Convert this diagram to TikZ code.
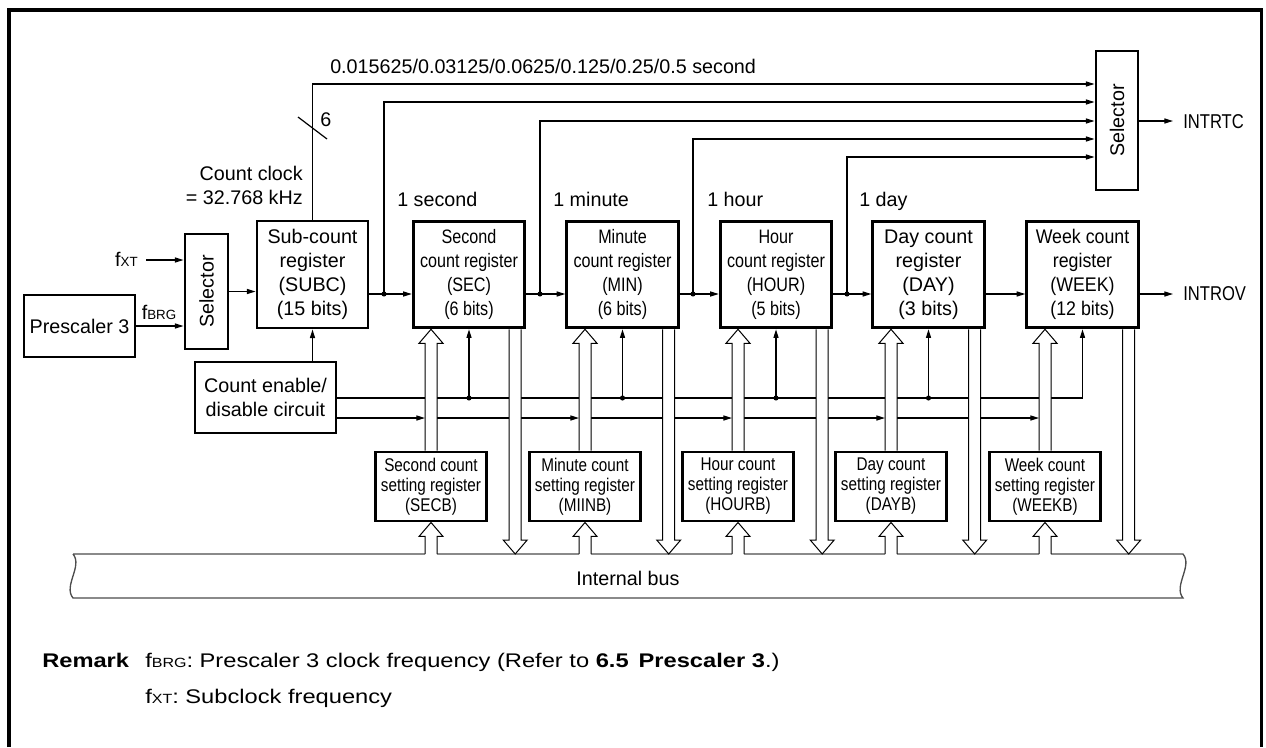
\documentclass[tikz,border=0pt]{standalone}
\usepackage{fontspec}
\usepackage{graphicx}
\setmainfont{Liberation Sans}
\newfontfamily\condf[FakeStretch=0.83]{Liberation Sans}
\newfontfamily\weekf[FakeStretch=0.9]{Liberation Sans}
\newfontfamily\widef[FakeStretch=1.2]{Liberation Sans}
\usetikzlibrary{arrows.meta,calc}
\pgfdeclarelayer{bg}
\pgfdeclarelayer{mid}
\pgfsetlayers{bg,mid,main}
\newcommand\sbs[1]{{\fontsize{10pt}{10pt}\selectfont #1}}
\newcommand\hollowup[2]{%
\begin{pgfonlayer}{mid}
\fill[white] let \p1=#1, \p2=#2 in (\x1-4.5pt,\y1-1.3pt) -- (\x1-4.5pt,\y2-10.5pt) -- (\x1-9pt,\y2-10.5pt) -- (\x1,\y2) -- (\x1+9pt,\y2-10.5pt) -- (\x1+4.5pt,\y2-10.5pt) -- (\x1+4.5pt,\y1-1.3pt) -- cycle;
\draw[hol] let \p1=#1, \p2=#2 in (\x1-4.5pt,\y1) -- (\x1-4.5pt,\y2-10.5pt) -- (\x1-9pt,\y2-10.5pt) -- (\x1,\y2) -- (\x1+9pt,\y2-10.5pt) -- (\x1+4.5pt,\y2-10.5pt) -- (\x1+4.5pt,\y1);
\end{pgfonlayer}}
\newcommand\hollowdown[2]{%
\begin{pgfonlayer}{mid}
\fill[white] let \p1=#1, \p2=#2 in (\x1-4.5pt,\y1+1.3pt) -- (\x1-4.5pt,\y2+10.5pt) -- (\x1-9pt,\y2+10.5pt) -- (\x1,\y2) -- (\x1+9pt,\y2+10.5pt) -- (\x1+4.5pt,\y2+10.5pt) -- (\x1+4.5pt,\y1+1.3pt) -- cycle;
\draw[hol] let \p1=#1, \p2=#2 in (\x1-4.5pt,\y1) -- (\x1-4.5pt,\y2+10.5pt) -- (\x1-9pt,\y2+10.5pt) -- (\x1,\y2) -- (\x1+9pt,\y2+10.5pt) -- (\x1+4.5pt,\y2+10.5pt) -- (\x1+4.5pt,\y1);
\end{pgfonlayer}}
\begin{document}
\begin{tikzpicture}[x=0.75pt,y=-0.75pt,
  font=\fontsize{14.8pt}{18pt}\selectfont,
  blk/.style={draw, line width=2.2pt, fill=white, inner sep=0pt, align=center},
  regbox/.style={blk, minimum width=83.6pt, minimum height=80pt, font=\condf\fontsize{14.6pt}{18pt}\selectfont},
  setbox/.style={blk, minimum width=83.25pt, minimum height=51.75pt, font=\condf\fontsize{13.8pt}{15pt}\selectfont},
  conn/.style={line width=0.9pt},
  arr/.style={conn, -{Triangle[length=6.5pt,width=3.8pt]}},
  hol/.style={line width=0.75pt},
  busline/.style={line width=1pt, draw=black!70},
  lbl/.style={inner sep=0pt, anchor=base west},
]
\useasboundingbox (0,0) rectangle (1266,747);
% frame
\draw[line width=2.8pt] (9,747) -- (9,10) -- (1261.5,10) -- (1261.5,747);

% blocks
\node[blk, minimum width=83.25pt, minimum height=46.5pt] (pre) at (79.5,326) {Prescaler 3};
\node[blk, minimum width=32.25pt, minimum height=86.25pt] (sel1) at (206.5,291.5) {\rotatebox{90}{Selector}};
\node[blk, minimum width=83.25pt, minimum height=80.25pt] (subc) at (312.5,274.5) {Sub-count\\register\\(SUBC)\\(15 bits)};
\node[blk, minimum width=105.75pt, minimum height=53.25pt] (enab) at (265.5,397.5) {Count enable/\\disable circuit};
\node[regbox] (sec) at (469,274.5) {Second\\count register\\(SEC)\\(6 bits)};
\node[regbox] (min) at (622.5,274.5) {Minute\\count register\\(MIN)\\(6 bits)};
\node[regbox] (hour) at (776,274.5) {Hour\\count register\\(HOUR)\\(5 bits)};
\node[regbox, font=\fontsize{14.8pt}{18pt}\selectfont] (day) at (928.5,274.5) {Day count\\register\\(DAY)\\(3 bits)};
\node[regbox, font=\weekf\fontsize{14.8pt}{18pt}\selectfont] (week) at (1082.5,274.5) {Week count\\register\\(WEEK)\\(12 bits)};
\node[blk, minimum width=31.5pt, minimum height=104.25pt] (sel2) at (1117,120.5) {\rotatebox{90}{Selector}};
\node[setbox] (secb) at (431,486.5) {Second count\\setting register\\(SECB)};
\node[setbox] (minb) at (585,486.5) {Minute count\\setting register\\(MIINB)};
\node[setbox] (hourb) at (738,486.5) {Hour count\\setting register\\(HOURB)};
\node[setbox] (dayb) at (891,486.5) {Day count\\setting register\\(DAYB)};
\node[setbox] (weekb) at (1045,486.5) {Week count\\setting register\\(WEEKB)};

% texts
\node[lbl] (toplbl) at (330,73) {0.015625/0.03125/0.0625/0.125/0.25/0.5 second};
\node[lbl, anchor=base east] (cc1) at (303,180) {Count clock};
\node[lbl, anchor=base east] (cc2) at (303,204) {= 32.768 kHz};
\node[lbl] (six) at (320,126) {6};
\node[lbl] (l1) at (397,206) {1 second};
\node[lbl] (l2) at (553,206) {1 minute};
\node[lbl] (l3) at (707,206) {1 hour};
\node[lbl] (l4) at (859,206) {1 day};
\node[lbl, anchor=base east] (fxt) at (138,266) {f\sbs{XT}};
\node[lbl, anchor=base] (fbrg) at (159,319) {f\sbs{BRG}};
\node[lbl, font=\condf\fontsize{15pt}{18pt}\selectfont] (intrtc) at (1183,128) {INTRTC};
\node[lbl, font=\condf\fontsize{15pt}{18pt}\selectfont] (introv) at (1183,300) {INTROV};
\node[lbl, anchor=base] (busl) at (628,585) {Internal bus};
\node[lbl, font=\widef\bfseries\fontsize{14.8pt}{18pt}\selectfont] (rem) at (42,667) {Remark};
\node[lbl, font=\widef\fontsize{14.8pt}{18pt}\selectfont] (rem1) at (145,667) {f\sbs{BRG}: Prescaler 3 clock frequency (Refer to \textbf{6.5\enspace Prescaler 3}.)};
\node[lbl, font=\widef\fontsize{14.8pt}{18pt}\selectfont] (rem2) at (145,703) {f\sbs{XT}: Subclock frequency};

% helper coordinates
\coordinate (ry) at (0,294);
\coordinate (eu) at (0,398);
\coordinate (el) at (0,418);
\coordinate (bt) at (0,554);
\coordinate (d1) at (384,294);
\coordinate (d2) at (540,294);
\coordinate (d3) at (693,294);
\coordinate (d4) at (847,294);
\coordinate (fxs) at (146,260);
\coordinate (o1) at (1173,121);
\coordinate (o2) at (1173,294);

\begin{pgfonlayer}{bg}
% bus
\draw[busline] (73,554) -- (1183,554) .. controls (1193,566) and (1173,586) .. (1183,598) -- (73,598) .. controls (63,586) and (83,566) .. (73,554);
% left inputs
\draw[arr] (fxs) -- (fxs -| sel1.west);
\draw[arr] (pre.east) -- (pre.east -| sel1.west);
\draw[arr] (sel1.east) -- (sel1.east -| subc.west);
\draw[arr] (subc.south |- enab.north) -- (subc.south);
% main chain
\draw[arr] (subc.east |- ry) -- (sec.west |- ry);
\draw[arr] (sec.east |- ry) -- (min.west |- ry);
\draw[arr] (min.east |- ry) -- (hour.west |- ry);
\draw[arr] (hour.east |- ry) -- (day.west |- ry);
\draw[arr] (day.east |- ry) -- (week.west |- ry);
\draw[arr] (week.east |- ry) -- (o2);
% to upper selector
\draw[arr] (subc.north) |- (sel2.west |- 0,84);
\draw[arr] (d1) |- (sel2.west |- 0,102);
\draw[arr] (d2) |- (sel2.west |- 0,121);
\draw[arr] (d3) |- (sel2.west |- 0,139);
\draw[arr] (d4) |- (sel2.west |- 0,157);
\draw[arr] (sel2.east |- o1) -- (o1);
\draw[conn] (298,117) -- (327,139);
\foreach \d in {d1,d2,d3,d4} \fill (\d) circle[radius=1.9pt];
% enable lines
\draw[arr] (enab.east |- eu) -| (week.south);
\foreach \rg in {sec,min,hour,day} {
  \fill (\rg.south |- eu) circle[radius=1.9pt];
  \draw[arr] (\rg.south |- eu) -- (\rg.south);
}
\draw[arr] (enab.east |- el) -- ($(secb.north |- el)+(-6,0)$);
\draw[arr] ($(secb.north |- el)+(6,0)$) -- ($(minb.north |- el)+(-6,0)$);
\draw[arr] ($(minb.north |- el)+(6,0)$) -- ($(hourb.north |- el)+(-6,0)$);
\draw[arr] ($(hourb.north |- el)+(6,0)$) -- ($(dayb.north |- el)+(-6,0)$);
\draw[arr] ($(dayb.north |- el)+(6,0)$) -- ($(weekb.north |- el)+(-6,0)$);
\end{pgfonlayer}

% hollow bus arrows
\foreach \rg/\sg in {sec/secb,min/minb,hour/hourb,day/dayb,week/weekb} {
  \hollowup{(\sg.north)}{(\sg.north |- \rg.south)}
  \hollowup{(\sg.south |- bt)}{(\sg.south)}
  \coordinate (dd) at ($(\rg.south east)+(-11,0)$);
  \hollowdown{(dd)}{(dd |- bt)}
}
\end{tikzpicture}
\end{document}
